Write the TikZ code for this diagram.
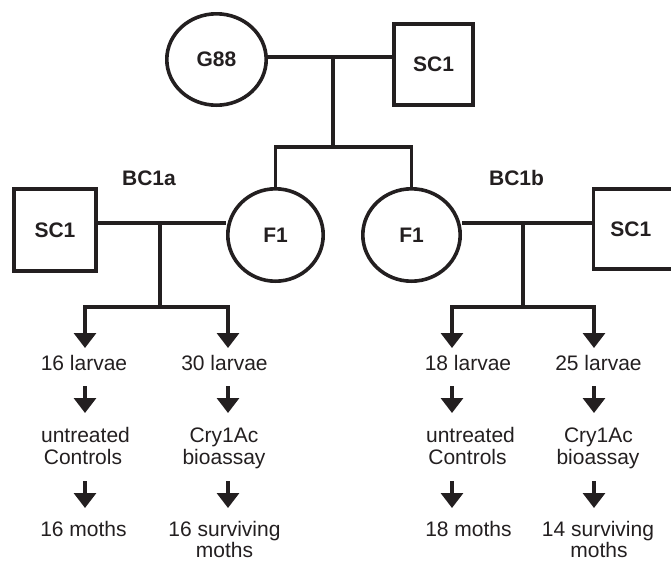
\documentclass[tikz,border=0pt]{standalone}
\usepackage{fontspec}
\setmainfont{Liberation Sans}
\usetikzlibrary{arrows.meta,calc,shapes.geometric}
\definecolor{ink}{HTML}{231F20}
\begin{document}
\begin{tikzpicture}[x=1pt,y=-1pt,
  every node/.style={text=ink},
  shp/.style={draw=ink,line width=3.6pt,inner sep=0pt},
  sq/.style={shp,rectangle},
  el/.style={shp,ellipse},
  lbl/.style={font=\fontsize{21}{22}\selectfont\bfseries},
  txt/.style={font=\fontsize{21}{22}\selectfont,inner sep=0pt,anchor=base},
  ln/.style={draw=ink,line width=3.2pt,line join=miter},
  arr/.style={ln,-{Triangle[width=22pt,length=15pt]}},
  barr/.style={ln,{Triangle[width=22pt,length=15pt]}-{Triangle[width=22pt,length=15pt]}}
]
\useasboundingbox (0,0) rectangle (671,560);
\clip (0,0) rectangle (671,560);

% parents
\node[el,lbl,minimum width=99.4pt,minimum height=91.4pt] (G88) at (216.5,59.5) {G88};
\node[sq,lbl,minimum width=79.4pt,minimum height=81.4pt] (SCt) at (433.5,64.5) {SC1};
% F1 generation
\node[el,lbl,minimum width=95.4pt,minimum height=92.4pt] (F1a) at (275.5,235) {F1};
\node[el,lbl,minimum width=97.4pt,minimum height=92.4pt] (F1b) at (411.5,235) {F1};
% backcross parents
\node[sq,lbl,minimum width=82.4pt,minimum height=82.4pt] (SCa) at (55,230) {SC1};
\node[sq,lbl,minimum width=82.4pt,minimum height=80.4pt] (SCb) at (634.8,229) {\hspace*{-8pt}SC1};
% cross labels
\node[lbl] (BCa) at (149,178) {BC1a};
\node[lbl] (BCb) at (516.5,178) {BC1b};

% top mating and descent
\coordinate (m0) at (333,57);
\coordinate (b0) at (333,147);
\draw[ln] (G88.east |- m0) -- (SCt.west |- m0);
\draw[ln] (m0) -- (b0);
\draw[ln] (F1a.north) |- (b0) -| (F1b.north);

% BC1a mating
\coordinate (m1) at (160,223);
\coordinate (b1) at (160,307);
\coordinate (k1) at (85,307);
\coordinate (k2) at (228,307);
\draw[ln] (SCa.east |- m1) -- (F1a.west |- m1);
\draw[ln] (m1) -- (b1);

% BC1b mating
\coordinate (m2) at (523,223);
\coordinate (b2) at (523,307);
\coordinate (k3) at (452,307);
\coordinate (k4) at (594,307);
\draw[ln] (F1b.east |- m2) -- (SCb.west |- m2);
\draw[ln] (m2) -- (b2);

% text columns
\node[txt] (L1) at (84,370.5) {16 larvae};
\node[txt] (L2) at (224.5,370.5) {30 larvae};
\node[txt] (L3) at (468,370.5) {18 larvae};
\node[txt] (L4) at (598.5,370.5) {25 larvae};

\node[txt] (U1) at (85.5,442.5) {untreated};
\node[txt] (C1) at (83,464.5) {Controls};
\node[txt] (U2) at (224,442.5) {Cry1Ac};
\node[txt] (C2) at (224,464.5) {bioassay};
\node[txt] (U3) at (470.5,442.5) {untreated};
\node[txt] (C3) at (467.5,464.5) {Controls};
\node[txt] (U4) at (598.5,442.5) {Cry1Ac};
\node[txt] (C4) at (598,464.5) {bioassay};

\node[txt] (M1) at (83.5,536.5) {16 moths};
\node[txt] (M2) at (224.5,536.5) {16 surviving};
\node[txt] (M2b) at (224.5,557) {moths};
\node[txt] (M3) at (468.5,536.5) {18 moths};
\node[txt] (M4) at (598,536.5) {14 surviving};
\node[txt] (M4b) at (599,557) {moths};

% bracket arrows
\coordinate (t1) at ($(k1 |- L1.base)+(0,-22.5)$);
\coordinate (t2) at ($(k2 |- L2.base)+(0,-22.5)$);
\coordinate (t3) at ($(k3 |- L3.base)+(0,-22.5)$);
\coordinate (t4) at ($(k4 |- L4.base)+(0,-22.5)$);
\draw[barr] (t1) -- (k1) -- (k2) -- (t2);
\draw[barr] (t3) -- (k3) -- (k4) -- (t4);

% step arrows
\foreach \k/\a/\b/\c/\d in {k1/L1/U1/C1/M1, k2/L2/U2/C2/M2, k3/L3/U3/C3/M3, k4/L4/U4/C4/M4}{
  \draw[arr] ($(\k |- \a.base)+(0,15.5)$) -- ($(\k |- \b.base)+(0,-29.5)$);
  \draw[arr] ($(\k |- \c.base)+(0,16.5)$) -- ($(\k |- \d.base)+(0,-28.5)$);
}
\end{tikzpicture}
\end{document}
